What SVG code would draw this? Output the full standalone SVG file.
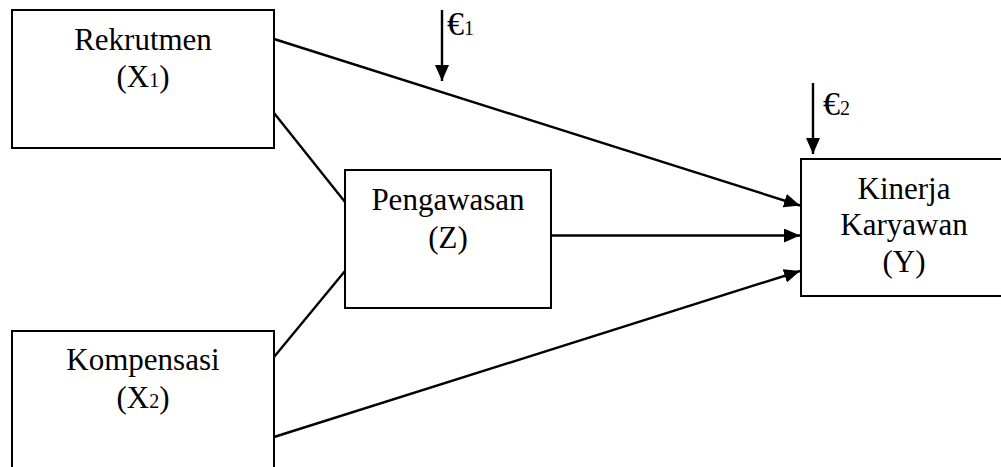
<svg xmlns="http://www.w3.org/2000/svg" width="1001" height="467" viewBox="0 0 1001 467">
<style>
.box{fill:#fff;stroke:#000;stroke-width:2}
.t{font-family:"Liberation Serif","Times New Roman",serif;font-size:31px;fill:#000;text-anchor:middle}
.e{font-family:"Liberation Serif","Times New Roman",serif;font-size:34px;fill:#000}
.c{stroke:#000;stroke-width:2.4;fill:none}
</style>
<defs>
<marker id="ah" markerUnits="userSpaceOnUse" markerWidth="16" markerHeight="14" refX="16" refY="7" orient="auto">
<path d="M0,0 L16,7 L0,14 z" fill="#000"/>
</marker>
</defs>
<rect width="1001" height="467" fill="#fff"/>
<g id="connectors">
<line class="c" x1="274" y1="39" x2="800" y2="205.5" marker-end="url(#ah)"/>
<line class="c" x1="551" y1="235.5" x2="800" y2="235.5" marker-end="url(#ah)"/>
<line class="c" x1="274" y1="437" x2="800" y2="271" marker-end="url(#ah)"/>
<line class="c" x1="274" y1="113" x2="345" y2="202"/>
<line class="c" x1="274" y1="357" x2="345" y2="271"/>
<line class="c" x1="442" y1="10" x2="442" y2="81" marker-end="url(#ah)"/>
<line class="c" x1="813" y1="83" x2="813" y2="154" marker-end="url(#ah)"/>
</g>
<g id="rekrutmen">
<rect class="box" x="12" y="10" width="262" height="138"/>
<text class="t" x="143" y="50">Rekrutmen</text>
<text class="t" x="143" y="87">(X<tspan font-size="20">1</tspan>)</text>
</g>
<g id="kompensasi">
<rect class="box" x="12" y="331" width="262" height="150"/>
<text class="t" x="143" y="370">Kompensasi</text>
<text class="t" x="143" y="408">(X<tspan font-size="20">2</tspan>)</text>
</g>
<g id="pengawasan">
<rect class="box" x="345" y="170" width="206" height="138"/>
<text class="t" x="448" y="210">Pengawasan</text>
<text class="t" x="448" y="248">(Z)</text>
</g>
<g id="kinerja">
<rect class="box" x="801" y="159" width="220" height="137"/>
<text class="t" x="904" y="199">Kinerja</text>
<text class="t" x="904" y="235">Karyawan</text>
<text class="t" x="904" y="272">(Y)</text>
</g>
<g id="e1">
<text class="e" x="447" y="35">€<tspan font-size="20">1</tspan></text>
</g>
<g id="e2">
<text class="e" x="823" y="115">€<tspan font-size="20">2</tspan></text>
</g>
</svg>
